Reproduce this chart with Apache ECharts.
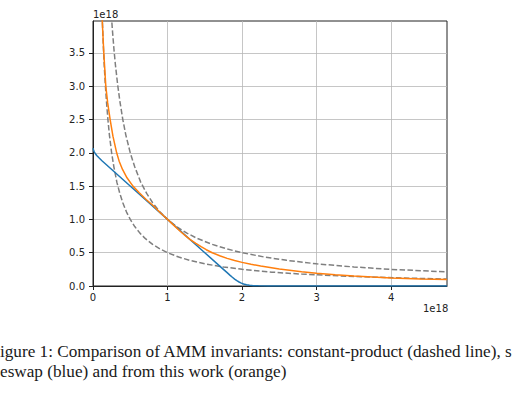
<!DOCTYPE html>
<html>
<head>
<meta charset="utf-8">
<script src="https://cdn.jsdelivr.net/npm/echarts@6/dist/echarts.min.js"></script>
<style>
  html, body { margin: 0; padding: 0; background: #fff; }
  #chart { width: 520px; height: 400px; }
</style>
</head>
<body>
<div id="chart"></div>
<script>
// Values in units of 1e18
const xTicks = [0, 1, 2, 3, 4];
const yTicks = [0, 0.5, 1.0, 1.5, 2.0, 2.5, 3.0, 3.5];

// constant-product, outer (dashed)
const cpOuterX = [0.22, 0.24, 0.26, 0.28, 0.3, 0.33, 0.36, 0.4, 0.44, 0.5, 0.56, 0.64, 0.72, 0.8, 0.9, 1.0, 1.12, 1.26, 1.4, 1.6, 1.8, 2.0, 2.3, 2.6, 3.0, 3.5, 4.0, 4.75];
const cpOuterY = [4.55, 4.17, 3.85, 3.57, 3.33, 3.03, 2.78, 2.5, 2.27, 2.0, 1.79, 1.56, 1.39, 1.25, 1.11, 1.0, 0.893, 0.794, 0.714, 0.625, 0.556, 0.5, 0.435, 0.385, 0.333, 0.286, 0.25, 0.211];

// constant-product, inner (dashed)
const cpInnerX = [0.11, 0.12, 0.13, 0.14, 0.15, 0.165, 0.18, 0.2, 0.22, 0.25, 0.28, 0.32, 0.36, 0.4, 0.45, 0.5, 0.56, 0.63, 0.7, 0.8, 0.9, 1.0, 1.15, 1.3, 1.5, 1.75, 2.0, 2.4, 2.8, 3.3, 3.8, 4.3, 4.75];
const cpInnerY = [4.55, 4.17, 3.85, 3.57, 3.33, 3.03, 2.78, 2.5, 2.27, 2.0, 1.79, 1.56, 1.39, 1.25, 1.11, 1.0, 0.893, 0.794, 0.714, 0.625, 0.556, 0.5, 0.435, 0.385, 0.333, 0.286, 0.25, 0.208, 0.179, 0.152, 0.132, 0.116, 0.105];

// stableswap (blue)
const ssX = [0, 0.005, 0.015, 0.03, 0.05, 0.08, 0.12, 0.6, 1.0, 1.5, 1.75, 1.8, 1.84, 1.87, 1.9, 1.93, 1.96, 1.99, 2.02, 2.06, 2.1, 2.15, 2.22, 2.35, 2.6, 3.0, 4.75];
const ssY = [2.07, 2.05, 2.02, 1.99, 1.96, 1.925, 1.882, 1.40, 1.0, 0.5, 0.25, 0.2, 0.16, 0.131, 0.104, 0.08, 0.06, 0.043, 0.03, 0.018, 0.01, 0.005, 0.002, 0.0007, 0.0002, 0, 0];

// this work (orange)
const twX = [0.113, 0.125, 0.145, 0.172, 0.197, 0.23, 0.2675, 0.3175, 0.351, 0.396, 0.456, 0.536, 0.621, 0.713, 0.81, 0.9, 1.0, 1.1, 1.17, 1.25, 1.3, 1.38, 1.45, 1.52, 1.6, 1.7, 1.8, 1.9, 2.0, 2.12, 2.25, 2.5, 2.8, 3.0, 3.25, 3.5, 3.75, 4.0, 4.4, 4.75];
const twY = [4.4, 3.96, 3.5, 3.0, 2.75, 2.5, 2.25, 2.0, 1.875, 1.75, 1.625, 1.5, 1.4, 1.3, 1.205, 1.105, 1.0, 0.895, 0.822, 0.745, 0.70, 0.64, 0.59, 0.545, 0.5, 0.455, 0.415, 0.383, 0.355, 0.327, 0.30, 0.257, 0.215, 0.19, 0.168, 0.15, 0.135, 0.122, 0.107, 0.097];

const caption1 = 'igure 1: Comparison of AMM invariants: constant-product (dashed line), s';
const caption2 = 'eswap (blue) and from this work (orange)';

const zip = (xs, ys) => xs.map((x, i) => [x, ys[i]]);

const chart = echarts.init(document.getElementById('chart'), null, { renderer: 'svg' });

const tickFont = { fontFamily: 'DejaVu Sans', fontSize: 10, color: '#222' };

const lineBase = { type: 'line', showSymbol: false, symbol: 'none', smooth: false, clip: true, animation: false };

chart.setOption({
  animation: false,
  backgroundColor: '#fff',
  grid: { left: 93, right: 73, top: 21, bottom: 114, show: true, borderColor: '#222', borderWidth: 1, backgroundColor: 'transparent' },
  xAxis: {
    type: 'value', min: 0, max: 4.75, interval: 1,
    axisLine: { show: true, lineStyle: { color: '#222', width: 1 } },
    axisTick: { show: true, length: 4, customValues: xTicks, lineStyle: { color: '#222', width: 1 } },
    axisLabel: Object.assign({ margin: 6, customValues: xTicks, formatter: v => String(v) }, tickFont),
    splitLine: { show: true, lineStyle: { color: '#b8b8b8', width: 0.8 } }
  },
  yAxis: {
    type: 'value', min: 0, max: 3.98, interval: 0.5,
    axisLine: { show: true, lineStyle: { color: '#222', width: 1 } },
    axisTick: { show: true, length: 4, customValues: yTicks, lineStyle: { color: '#222', width: 1 } },
    axisLabel: Object.assign({ margin: 8, customValues: yTicks, formatter: v => v.toFixed(1) }, tickFont),
    splitLine: { show: true, lineStyle: { color: '#b8b8b8', width: 0.8 } }
  },
  graphic: [
    { type: 'text', left: 93, top: 9, style: { text: '1e18', font: '10px "DejaVu Sans"', fill: '#222' } },
    { type: 'text', left: 423, top: 303, style: { text: '1e18', font: '10px "DejaVu Sans"', fill: '#222' } },
    { type: 'text', left: 0, top: 343, style: { text: caption1, font: '17.2px "Liberation Serif"', fill: '#1a1a1a' } },
    { type: 'text', left: 0, top: 363, style: { text: caption2, font: '17.2px "Liberation Serif"', fill: '#1a1a1a' } }
  ],
  series: [
    Object.assign({}, lineBase, { name: 'cp outer', data: zip(cpOuterX, cpOuterY), lineStyle: { color: '#7f7f7f', width: 1.5, type: [5.5, 2.4] } }),
    Object.assign({}, lineBase, { name: 'cp inner', data: zip(cpInnerX, cpInnerY), lineStyle: { color: '#7f7f7f', width: 1.5, type: [5.5, 2.4] } }),
    Object.assign({}, lineBase, { name: 'stableswap', data: zip(ssX, ssY), lineStyle: { color: '#1f77b4', width: 1.5 } }),
    Object.assign({}, lineBase, { name: 'this work', data: zip(twX, twY), lineStyle: { color: '#ff7f0e', width: 1.5 } })
  ]
});
</script>
</body>
</html>
